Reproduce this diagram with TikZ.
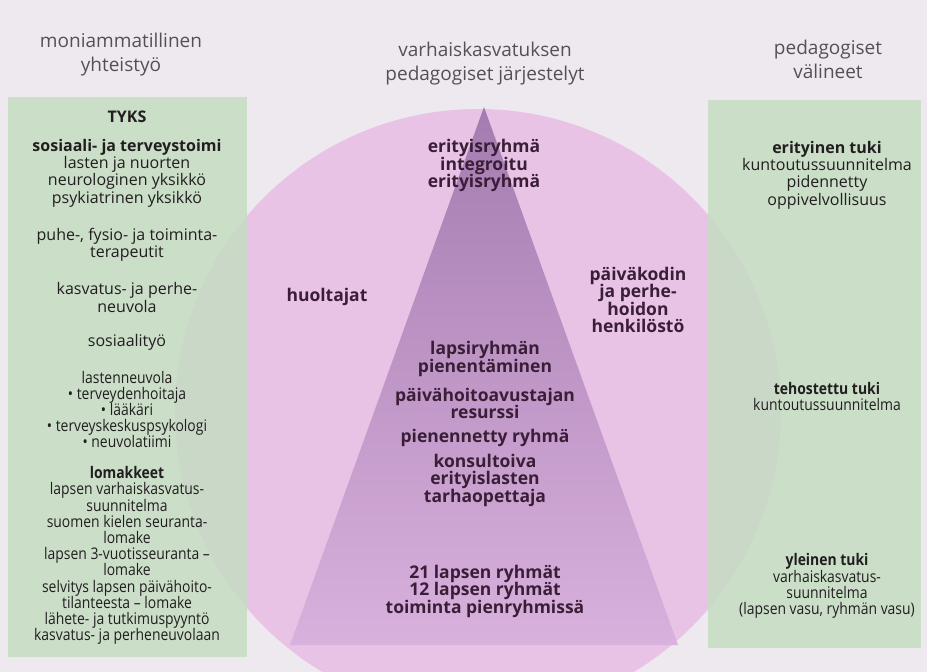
\documentclass[tikz,border=0pt]{standalone}
\usepackage{fontspec}
\setmainfont{Open Sans}
\newfontfamily\stretto[FakeStretch=0.87]{Open Sans}

\definecolor{sfondo}{HTML}{EEE9EF}
\definecolor{verde}{HTML}{C6DDC3}
\definecolor{rosa}{HTML}{E9C3E6}
\definecolor{viola}{HTML}{A57CB0}
\definecolor{violachiaro}{HTML}{D9B1DD}
\definecolor{grigio}{HTML}{555055}
\definecolor{tumma}{HTML}{221E20}
\definecolor{violascuro}{HTML}{3A1E37}

\begin{document}
\begin{tikzpicture}[
  x=1pt, y=-1pt,
  every node/.style={align=center, inner sep=0pt},
  otsikko/.style={text=grigio, font=\fontsize{19}{24}\selectfont},
  laatikko/.style={text=tumma, font=\fontsize{16}{17.3}\selectfont}, % testi nei riquadri verdi
  tiivis/.style={text=tumma, font=\stretto\fontsize{16}{16.2}\selectfont},
  piramidi/.style={text=violascuro, font=\bfseries\fontsize{17.5}{17.5}\selectfont},
  riquadro/.style={fill=verde, fill opacity=0.88}
]
\clip (0,0) rectangle (927,672);
\fill[sfondo] (0,0) rectangle (927,672);

% cerchio e triangolo
\fill[rosa] (478,412) circle (303);
\shade[top color=viola, bottom color=violachiaro] (484,107) -- (290,645) -- (678,645) -- cycle;

% riquadri verdi
\fill[riquadro] (8,97) rectangle (247,657);
\fill[riquadro] (708,100) rectangle (921,648);

% intestazioni
\node[otsikko] (moni) at (121,55) {moniammatillinen\\yhteistyö};
\node[otsikko] (varh) at (485,64) {varhaiskasvatuksen\\pedagogiset järjestelyt};
\node[otsikko] (peda) at (828,59) {pedagogiset\\välineet};

% riquadro sinistro
\node[laatikko] (tyks) at (127,117) {\textbf{TYKS}};
\node[laatikko] (sosi) at (127,173) {\textbf{sosiaali- ja terveystoimi}\\lasten ja nuorten\\neurologinen yksikkö\\psykiatrinen yksikkö};
\node[laatikko] (puhe) at (127,244.5) {puhe-, fysio- ja toiminta-\\terapeutit};
\node[laatikko] (kasv) at (127,297.5) {kasvatus- ja perhe-\\neuvola};
\node[laatikko] (sost) at (127,342) {sosiaalityö};
\node[tiivis] (last) at (127,409.5) {lastenneuvola\\• terveydenhoitaja\\• lääkäri\\• terveyskeskuspsykologi\\• neuvolatiimi};
\node[tiivis] (loma) at (127,555.5) {\textbf{lomakkeet}\\lapsen varhaiskasvatus-\\suunnitelma\\suomen kielen seuranta-\\lomake\\lapsen 3-vuotisseuranta –\\lomake\\selvitys lapsen päivähoito-\\tilanteesta – lomake\\lähete- ja tutkimuspyyntö\\kasvatus- ja perheneuvolaan};

% piramide
\node[piramidi] (erit) at (484,165.5) {erityisryhmä\\integroitu\\erityisryhmä};
\node[piramidi] (huol) at (327,297) {huoltajat};
\node[piramidi] (paiv) at (638,300) {päiväkodin\\ja perhe-\\hoidon\\henkilöstö};
\node[piramidi] (laps) at (485,359) {lapsiryhmän\\pienentäminen};
\node[piramidi] (avus) at (485,403.5) {päivähoitoavustajan\\resurssi};
\node[piramidi] (pien) at (485,438) {pienennetty ryhmä};
\node[piramidi] (kons) at (485,480) {konsultoiva\\erityislasten\\tarhaopettaja};
\node[piramidi] (ryhm) at (485,591) {21 lapsen ryhmät\\12 lapsen ryhmät\\toiminta pienryhmissä};

% riquadro destro
\node[laatikko] (erti) at (827,175) {\textbf{erityinen tuki}\\kuntoutussuunnitelma\\pidennetty\\oppivelvollisuus};
\node[tiivis] (teho) at (827,396.5) {\textbf{tehostettu tuki}\\kuntoutussuunnitelma};
\node[tiivis] (ylei) at (827,586) {\textbf{yleinen tuki}\\varhaiskasvatus-\\suunnitelma\\(lapsen vasu, ryhmän vasu)};
\end{tikzpicture}
\end{document}
